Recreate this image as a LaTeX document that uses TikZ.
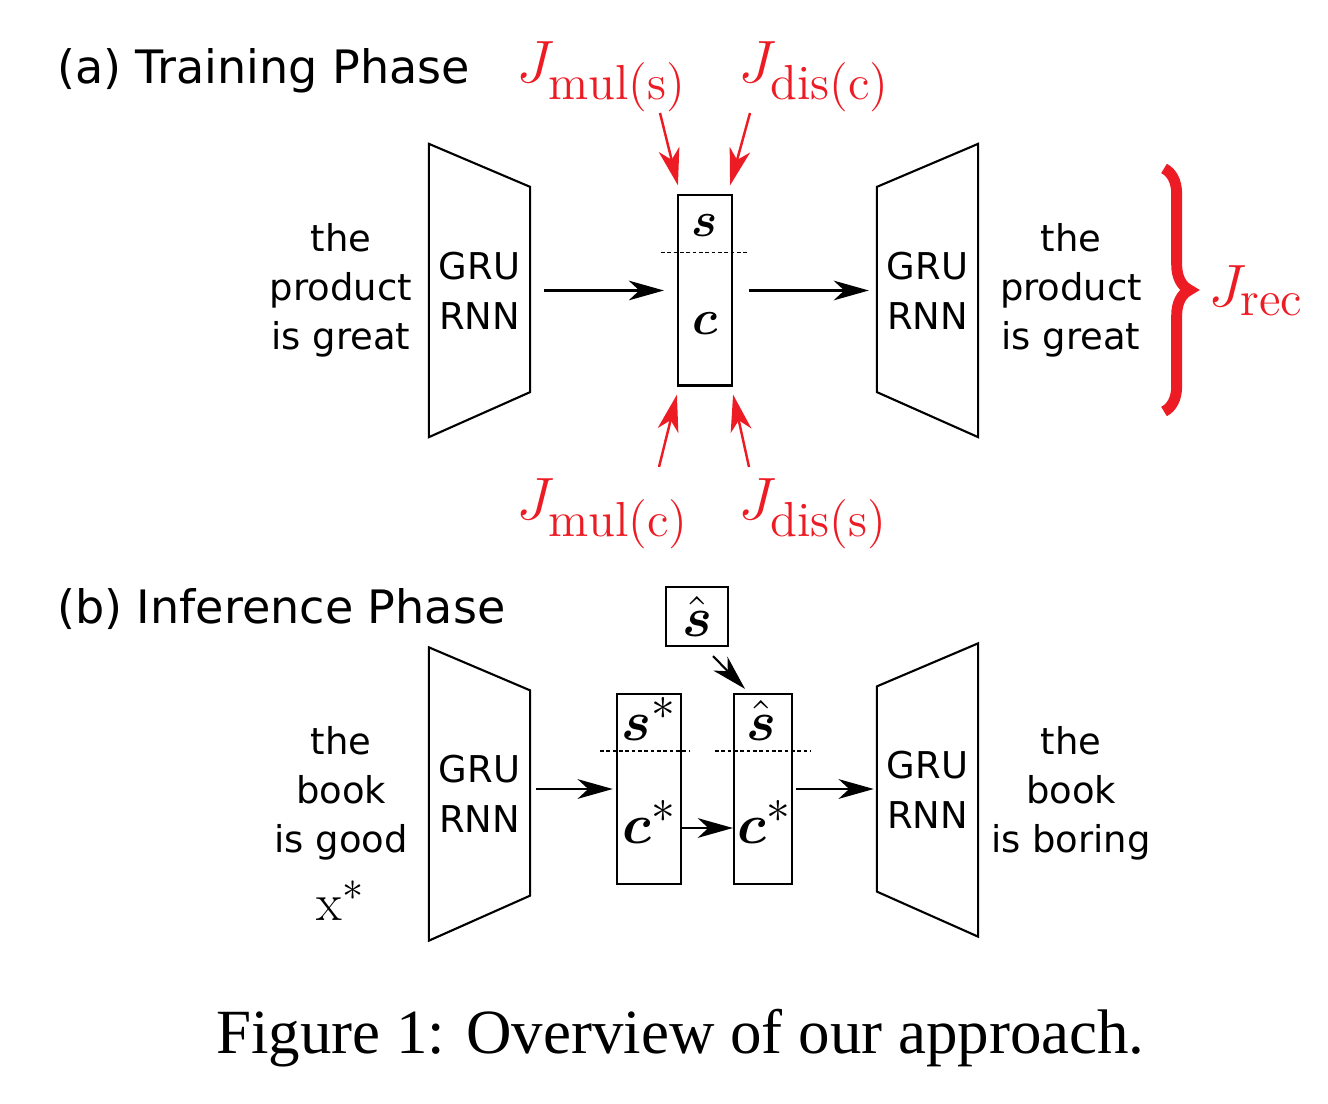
\RequirePackage{fix-cm}
\documentclass[tikz,border=0pt]{standalone}
\usepackage{amsmath,amssymb}
\usepackage{fontspec}
\newfontfamily\dejavu{DejaVu Sans}
\newfontfamily\capfont{Liberation Serif}
\usetikzlibrary{arrows.meta,positioning,calc,decorations.pathreplacing}
\definecolor{lossred}{RGB}{237,28,36}
\DeclareMathSizes{14}{14}{11}{8}
\DeclareMathSizes{15}{15}{12}{9}
\DeclareMathSizes{16}{16}{13.5}{9}
\DeclareMathSizes{17}{17}{14}{10}

\begin{document}
\begin{tikzpicture}[x=0.01cm,y=-0.01cm,line width=0.6pt,
 >={Stealth[length=10pt,width=5.6pt,inset=3pt]},
 rnn/.style={align=center,inner sep=0pt,minimum width=0.99cm,minimum height=2.91cm,
  font=\dejavu\fontsize{10.5}{14.2}\selectfont},
 sent/.style={align=center,inner sep=0pt,font=\dejavu\fontsize{10.5}{13.9}\selectfont},
 vec/.style={draw,inner sep=0pt,minimum height=1.9cm},
 sym/.style={anchor=base,inner sep=0pt,font=\fontsize{14}{16}\selectfont},
 symb/.style={sym,font=\fontsize{16}{18}\selectfont},
 sep/.style={line width=0.5pt,dash pattern=on 1.1pt off 0.7pt},
 loss/.style={text=lossred,inner sep=0pt,anchor=base west,font=\fontsize{17}{20}\selectfont},
 redarr/.style={->,draw=lossred,line width=0.7pt,>={Stealth[length=10.5pt,width=6pt,inset=3pt]}},
 title/.style={anchor=base west,inner sep=0pt,font=\dejavu\fontsize{13.1}{15}\selectfont}]
\useasboundingbox (0,0) rectangle (1328,1104);

% (a) training
\node[title] (ta) at (56,84) {(a) Training Phase};
\node[sent] (xa) at (341,290) {the\\product\\is great};
\node[rnn] (encA) at (479.5,290.5) {GRU\\RNN};
\node[vec,minimum width=0.54cm] (zA) at (705,290.5) {};
\node[rnn] (decA) at (927.5,290.5) {GRU\\RNN};
\node[sent] (ya) at (1071,290) {the\\product\\is great};
\node[sym] (sA) at (705,237) {$\boldsymbol{s}$};
\node[sym] (cA) at (705,335) {$\boldsymbol{c}$};
\draw[sep] ($(zA.north west)+(-16,58)$) -- ($(zA.north east)+(16,58)$);
\draw[->,shorten <=4pt,shorten >=3.7pt] (encA.east) -- (zA.west);
\draw[->,shorten <=4.5pt,shorten >=2.3pt] (zA.east) -- (decA.west);

% losses
\node[loss] (jms) at (515,83) {$J_{\mathrm{mul(s)}}$};
\node[loss] (jdc) at (737,83) {$J_{\mathrm{dis(c)}}$};
\node[loss] (jmc) at (515,520) {$J_{\mathrm{mul(c)}}$};
\node[loss] (jds) at (737,520) {$J_{\mathrm{dis(s)}}$};
\coordinate (pms) at (660,113);
\coordinate (pdc) at (750,113);
\coordinate (pmc) at (659,467);
\coordinate (pds) at (749,467);
\draw[redarr] (pms) -- ([shift={(1,-9)}]zA.north west);
\draw[redarr] (pdc) -- ([shift={(-3,-9)}]zA.north east);
\draw[redarr] (pmc) -- ([shift={(0,8)}]zA.south west);
\draw[redarr] (pds) -- ([shift={(0,8)}]zA.south east);
\draw[lossred,line width=3.1pt,decorate,decoration={brace,amplitude=7.2pt}] (1164,168.5) -- (1164,411.5);
\node[loss] (jrec) at (1207,307) {$J_{\mathrm{rec}}$};

% (b) inference
\node[title] (tb) at (56,624) {(b) Inference Phase};
\node[sent] (xb) at (341,793) {the\\book\\is good};
\node[sym,font=\fontsize{15}{17}\selectfont] (xstar) at (341,920) {$\mathrm{x}^*$};
\node[rnn] (encB) at (479.5,794) {GRU\\RNN};
\node[vec,minimum width=0.64cm] (zB1) at (649,789) {};
\node[vec,minimum width=0.58cm] (zB2) at (763,789) {};
\node[rnn] (decB) at (927.5,790) {GRU\\RNN};
\node[sent] (yb) at (1071,793) {the\\book\\is boring};
\node[draw,inner sep=0pt,minimum width=0.62cm,minimum height=0.59cm,
 font=\fontsize{16}{18}\selectfont] (shat) at (697,616.5) {$\hat{\boldsymbol{s}}$};
\node[symb] (sB1) at (649,740) {$\boldsymbol{s}^*$};
\node[symb] (cB1) at (650,843) {$\boldsymbol{c}^*$};
\node[symb] (sB2) at (761.5,740) {$\hat{\boldsymbol{s}}$};
\node[symb] (cB2) at (765,843) {$\boldsymbol{c}^*$};
\draw[sep] ($(zB1.north west)+(-16,58)$) -- ($(zB1.north east)+(7,58)$);
\draw[sep] ($(zB2.north west)+(-18,58)$) -- ($(zB2.north east)+(17,58)$);
\draw[->,shorten <=1.7pt,shorten >=0.9pt] (encB.east |- zB1.west) -- (zB1.west);
\draw[->] ($(zB1.east)+(0,39)$) -- ($(zB2.west)+(0,39)$);
\draw[->,shorten <=0.9pt,shorten >=0.9pt] (zB2.east) -- (decB.west |- zB2.east);
\draw[->] ([shift={(16,9)}]shat.south) -- ([shift={(-18,-4)}]zB2.north);

% GRU trapezoids
\foreach \n in {encA,encB}
 \draw (\n.north west) -- ($(\n.north east)+(0,43)$) -- ($(\n.south east)+(0,-45)$) -- (\n.south west) -- cycle;
\foreach \n in {decA,decB}
 \draw ($(\n.north west)+(0,43)$) -- (\n.north east) -- (\n.south east) -- ($(\n.south west)+(0,-45)$) -- cycle;

\node[anchor=base,inner sep=0pt,font=\capfont\fontsize{17.9}{20}\selectfont] (cap) at (680.5,1053)
 {Figure 1: Overview of our approach.};
\end{tikzpicture}
\end{document}
